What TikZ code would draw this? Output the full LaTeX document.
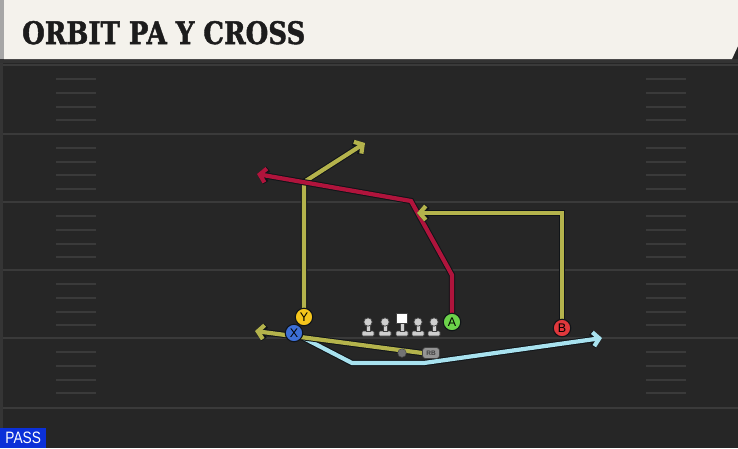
\documentclass[tikz,border=0pt]{standalone}
\usepackage{fontspec}
\setmainfont{Liberation Sans}
\newfontfamily\titlefont[BoldFeatures={FakeBold=1.6}]{DejaVu Serif}
\usetikzlibrary{arrows.meta}
\definecolor{fieldbg}{HTML}{262626}
\definecolor{titlebg}{HTML}{F4F2EC}
\definecolor{titletext}{HTML}{1C1C1C}
\definecolor{yardline}{HTML}{3A3A3A}
\definecolor{olive}{HTML}{B4B34C}
\definecolor{redroute}{HTML}{B0143C}
\definecolor{blueroute}{HTML}{A8E2EF}
\definecolor{edge}{HTML}{101418}
\definecolor{ycol}{HTML}{F5C51C}
\definecolor{xcol}{HTML}{3D6FD6}
\definecolor{acol}{HTML}{6CD24A}
\definecolor{bcol}{HTML}{E0383C}
\definecolor{lmcol}{HTML}{CFCFCF}
\definecolor{passblue}{HTML}{0B30D8}
\definecolor{leftstrip}{HTML}{353535}
\pgfdeclarelayer{field}
\pgfdeclarelayer{routes}
\pgfsetlayers{field,routes,main}
\tikzset{
  hashmark/.style={draw=yardline, line width=2pt},
  yline/.style={draw=yardline, line width=2pt},
  routeout/.style={line width=6.2pt, draw=edge, line join=miter, -{Straight Barb[length=6pt,width=14pt]}},
  routein/.style={line width=4.2pt, line join=miter, -{Straight Barb[length=6pt,width=14pt]}},
  player/.style={circle, minimum size=17.5pt, inner sep=0pt, draw=edge, line width=1.1pt, text=black, font=\fontsize{12.5}{12.5}\selectfont},
  lmpart/.style={fill=lmcol, draw=black!75, line width=0.7pt},
  lman/.pic={
    \filldraw[lmpart, rounded corners=1pt] (-6,0) rectangle (6,-5);
    \filldraw[lmpart] (-2,-5) rectangle (2,-11.5);
    \filldraw[lmpart] (0,-14) circle (4.2pt);
  },
  cman/.pic={
    \filldraw[lmpart, rounded corners=1pt] (-6,0) rectangle (6,-5);
    \filldraw[lmpart] (-2,-5) rectangle (2,-13);
    \filldraw[lmpart, fill=white] (-5.5,-13) rectangle (5.5,-22.5);
  }
}
\newcommand\myroute[2]{\draw[routeout] #2; \draw[routein, draw=#1] #2;}
\begin{document}
\begin{tikzpicture}[x=1pt,y=-1pt]
\useasboundingbox (0,0) rectangle (738,448);
\begin{pgfonlayer}{field}
  \fill[fieldbg] (0,0) rectangle (738,448);
  \fill[leftstrip] (0,59) rectangle (3,448);
  \fill[black!80] (0,59) rectangle (738,63);
  \foreach \yy in {65,133.5,202,270,338,408} \draw[yline] (3,\yy) -- (738,\yy);
  \foreach \s in {65,133.5,202,270,338} {
    \foreach \o in {14,28,41.5,55} {
      \draw[hashmark] (56,\s+\o) -- (96,\s+\o);
      \draw[hashmark] (646,\s+\o) -- (686,\s+\o);
    }
  }
  \fill[titlebg] (4,0) -- (738,0) -- (738,46) -- (732,59) -- (4,59) -- cycle;
  \fill[black!35] (0,0) rectangle (4,59);
\end{pgfonlayer}

\node[anchor=base west, inner sep=0pt, text=titletext] (title) at (22,44) {\resizebox{283pt}{23pt}{\titlefont\bfseries ORBIT PA Y CROSS}};

\node[fill=passblue, text=white, anchor=south west, minimum width=46pt, minimum height=20pt, inner sep=0pt, font=\fontsize{16.5}{16.5}\selectfont] (pass) at (0,448) {\scalebox{0.83}[1]{PASS}};

% linemen
\foreach \xx in {368,385,418,434} \pic at (\xx,336) {lman};
\pic at (402,336) {cman};
\node[circle, fill=black!55, draw=black!70, line width=0.5pt, minimum size=8.5pt, inner sep=0pt] (qb) at (402,353) {};
\node[fill=black!42, draw=black!75, line width=0.7pt, rounded corners=3pt, minimum width=17pt, minimum height=11pt, inner sep=0pt, text=black!75, font=\bfseries\fontsize{6.5}{6.5}\selectfont] (rb) at (431,353) {RB};

% players
\node[player, fill=ycol] (Y) at (304,317) {Y};
\node[player, fill=xcol] (X) at (294,333) {X};
\node[player, fill=acol] (A) at (452,322) {A};
\node[player, fill=bcol] (B) at (562,328) {B};

% route points
\coordinate (yb) at (304,182);
\coordinate (ye) at (365,143);
\coordinate (a1) at (452,275);
\coordinate (a2) at (411,201);
\coordinate (ae) at (257,174);
\coordinate (b1) at (562,213);
\coordinate (be) at (417,213);
\coordinate (rbe) at (255,331);
\coordinate (x1) at (352,363);
\coordinate (x2) at (424,363);
\coordinate (xe) at (602,338);

\begin{pgfonlayer}{routes}
  \myroute{olive}{(Y.center) -- (yb) -- (ye)}
  \myroute{redroute}{(A.center) -- (a1) -- (a2) -- (ae)}
  \myroute{olive}{(B.center) -- (b1) -- (be)}
  \myroute{blueroute}{(X.center) -- (x1) -- (x2) -- (xe)}
  \myroute{olive}{(rb.west) -- (rbe)}
\end{pgfonlayer}
\end{tikzpicture}
\end{document}
